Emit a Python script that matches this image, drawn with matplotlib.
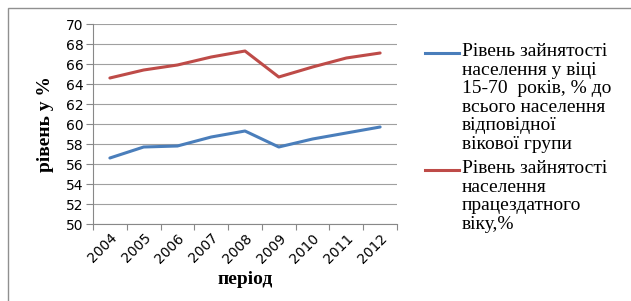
import matplotlib.pyplot as plt
from matplotlib.lines import Line2D
from matplotlib.patches import Rectangle

years = ['2004', '2005', '2006', '2007', '2008', '2009', '2010', '2011', '2012']
rate_15_70 = [56.6, 57.7, 57.8, 58.7, 59.3, 57.7, 58.5, 59.1, 59.7]
rate_working_age = [64.6, 65.4, 65.9, 66.7, 67.3, 64.7, 65.7, 66.6, 67.1]
label_15_70 = 'Рівень зайнятості\nнаселення у віці\n15-70  років, % до\nвсього населення\nвідповідної\nвікової групи'
label_working = 'Рівень зайнятості\nнаселення\nпрацездатного\nвіку,%'

blue = '#4a7ebb'
red = '#be4b48'
W, H = 631, 301

fig = plt.figure(figsize=(6.31, 3.01), dpi=100)
ax = fig.add_axes([93 / W, 1 - 224 / H, (397 - 93) / W, (224 - 24) / H])

x = list(range(len(years)))
ax.plot(x, rate_15_70, color=blue, lw=2.2, solid_capstyle='round')
ax.plot(x, rate_working_age, color=red, lw=2.2, solid_capstyle='round')

ax.set_xlim(-0.5, len(years) - 0.5)
ax.set_ylim(50, 70)
ax.set_yticks(range(50, 71, 2))
ax.yaxis.grid(True, color='#a0a0a0', lw=0.8)
ax.set_axisbelow(True)

# category boundary ticks, labels centred between them
ax.set_xticks([i - 0.5 for i in range(len(years) + 1)])
ax.set_xticklabels([])
ax.set_xticks(x, minor=True)
ax.set_xticklabels(years, minor=True, rotation=45, ha='right', rotation_mode='anchor',
                   fontsize=10, family='DejaVu Sans')
ax.tick_params(axis='x', which='minor', length=0, pad=5)
ax.tick_params(axis='x', which='major', length=4, color='#888888')
ax.tick_params(axis='y', length=5, color='#888888', labelsize=10, pad=2)
for lab in ax.get_yticklabels():
    lab.set_family('DejaVu Sans')

for s in ['top', 'right']:
    ax.spines[s].set_visible(False)
for s in ['left', 'bottom']:
    ax.spines[s].set_color('#888888')

ax.set_ylabel('рівень у %', family='Liberation Serif', fontweight='bold', fontsize=14, labelpad=8)
ax.set_xlabel('період', family='Liberation Serif', fontweight='bold', fontsize=14, labelpad=4)

# legend drawn by hand so the key sits on the first text line
for col, txt, ytop in [(blue, label_15_70, 43), (red, label_working, 160)]:
    fig.add_artist(Line2D([425 / W, 459 / W], [1 - (ytop + 10) / H] * 2, color=col, lw=2.2,
                          transform=fig.transFigure))
    fig.text(462 / W, 1 - ytop / H, txt, family='Liberation Serif', fontsize=14,
             va='top', ha='left', linespacing=1.12)

fig.add_artist(Rectangle((8 / W, -0.1), 1.0, 1 - 8 / H + 0.1, transform=fig.transFigure,
                         fill=False, edgecolor='#909090', lw=1))

fig.savefig('out.png', dpi=100)
